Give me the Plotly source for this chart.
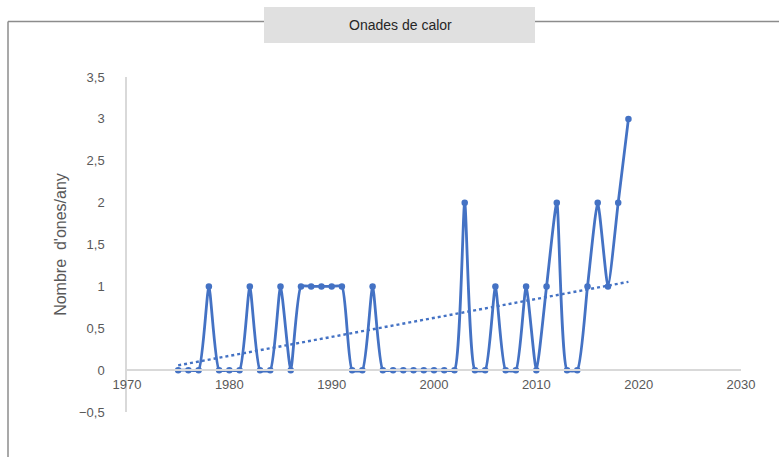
import numpy as np
import plotly.graph_objects as go

# Heat waves per year
years = list(range(1975, 2020))
waves = [0, 0, 0, 1, 0, 0, 0, 1, 0, 0,
         1, 0, 1, 1, 1, 1, 1, 0, 0, 1,
         0, 0, 0, 0, 0, 0, 0, 0, 2, 0,
         0, 1, 0, 0, 1, 0, 1, 2, 0, 0,
         1, 2, 1, 2, 3]

x_ticks = [1970, 1980, 1990, 2000, 2010, 2020, 2030]
y_ticks = [-0.5, 0, 0.5, 1, 1.5, 2, 2.5, 3, 3.5]

title_text = "Onades de calor"
y_title = "Nombre  d'ones/any"

BLUE = "#4472C4"
W, H = 779, 457
L, R, T, B = 127, 38, 77, 45
PW, PH = W - L - R, H - T - B

# linear trend over the series
slope, intercept = np.polyfit(years, waves, 1)
trend_x = [years[0], years[-1]]
trend_y = [slope * v + intercept for v in trend_x]

def px(xp):
    return (xp - L) / PW

def py(yp):
    return (H - B - yp) / PH

fig = go.Figure()
fig.add_trace(go.Scatter(
    x=years, y=waves, mode="lines+markers",
    line=dict(color=BLUE, width=2.8, shape="spline", smoothing=0.5),
    marker=dict(color=BLUE, size=6.5),
    hoverinfo="skip", showlegend=False,
))
fig.add_trace(go.Scatter(
    x=trend_x, y=trend_y, mode="lines",
    line=dict(color=BLUE, width=2.4, dash="dot"),
    hoverinfo="skip", showlegend=False,
))

ymin, ymax = y_ticks[0], y_ticks[-1]
zero_pos = (0 - ymin) / (ymax - ymin)

fig.update_layout(
    width=W, height=H,
    margin=dict(l=L, r=R, t=T, b=B),
    paper_bgcolor="white", plot_bgcolor="white",
    separators=", ",
    font=dict(family="Liberation Sans, Arial, sans-serif", color="#595959", size=13),
    xaxis=dict(
        range=[x_ticks[0], x_ticks[-1]], tickvals=x_ticks,
        showgrid=False, zeroline=False,
        showline=True, linecolor="#d9d9d9", linewidth=2,
        anchor="free", position=zero_pos,
        ticks="", ticklabelstandoff=2,
        tickfont=dict(size=13, color="#595959"),
    ),
    yaxis=dict(
        range=[ymin, ymax], tickvals=y_ticks,
        showgrid=False, zeroline=False,
        showline=True, linecolor="#d9d9d9", linewidth=1.5,
        ticks="", ticklabelstandoff=18,
        tickfont=dict(size=13, color="#595959"),
        title=dict(text=y_title, font=dict(size=16, color="#595959"), standoff=8),
    ),
    shapes=[
        # frame: top edge split around the title box, and left edge
        dict(type="line", xref="paper", yref="paper",
             x0=px(8), x1=px(264), y0=py(21.5), y1=py(21.5),
             line=dict(color="#8c8c8c", width=1.5)),
        dict(type="line", xref="paper", yref="paper",
             x0=px(535), x1=px(W + 2), y0=py(21.5), y1=py(21.5),
             line=dict(color="#8c8c8c", width=1.5)),
        dict(type="line", xref="paper", yref="paper",
             x0=px(8), x1=px(8), y0=py(21.5), y1=py(H + 2),
             line=dict(color="#8c8c8c", width=1.5)),
        # title box
        dict(type="rect", xref="paper", yref="paper",
             x0=px(264), x1=px(535), y0=py(7), y1=py(43),
             fillcolor="#e0e0e0", line=dict(width=0), layer="above"),
    ],
    annotations=[
        dict(text=title_text, xref="paper", yref="paper",
             x=px(400), y=py(25), xanchor="center", yanchor="middle",
             showarrow=False, font=dict(size=14, color="#262626")),
    ],
)

fig.write_html("out.html")
